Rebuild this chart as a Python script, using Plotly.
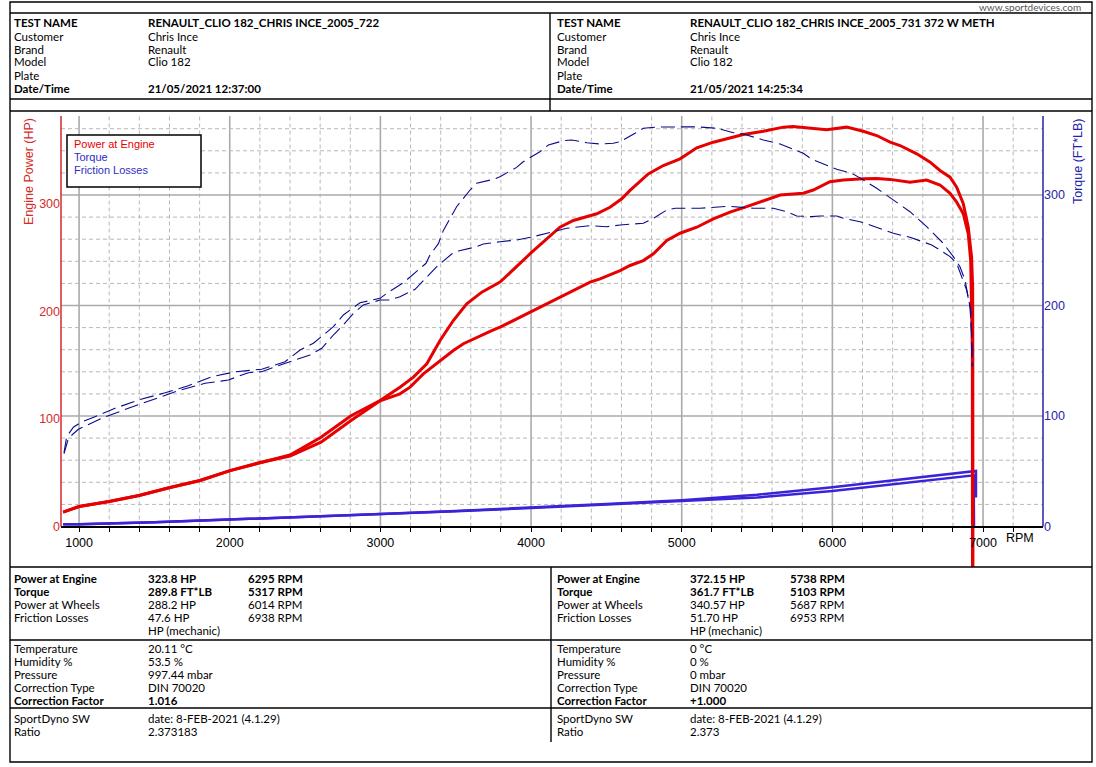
import plotly.graph_objects as go

W, H = 1096, 767
FONT = "Lato"
AX_FONT = "Liberation Sans"

# run 722 (a) and run 731 372 w meth (b)
rpm_pwr_a = [894, 1000, 1199, 1398, 1604, 1803, 2002, 2201, 2400, 2606, 2805, 2998, 3130, 3197, 3285,
             3396, 3484, 3551, 3662, 3739, 3794, 4015, 4148, 4392, 4458, 4591, 4657, 4745, 4812, 4901,
             4989, 5100, 5210, 5321, 5431, 5542, 5653, 5807, 5873, 5984, 6073, 6205, 6295, 6383, 6515,
             6626, 6714, 6781, 6825, 6869, 6902, 6918, 6924, 6929, 6930]
hp_a = [13.3, 18.6, 23.3, 28.8, 36.3, 42.8, 52, 59.5, 65.5, 78.4, 98.6, 117, 123.4, 129.6, 142,
        154.4, 163.7, 170, 177.7, 182.3, 185.4, 201, 210.2, 227.3, 230.4, 238.1, 242.8, 247.4, 253.7, 266,
        272.8, 278.4, 286.2, 292.4, 297.5, 302.6, 308.4, 310, 313, 320.7, 322.3, 323.5, 323.8, 322.9, 320.3,
        322.3, 317.7, 309.9, 301.7, 290.9, 272.3, 247.4, 210.2, 163.7, -60]

rpm_pwr_b = [894, 1000, 1199, 1398, 1604, 1803, 2002, 2201, 2400, 2606, 2805, 2998, 3130, 3219, 3308,
             3396, 3484, 3573, 3673, 3794, 4005, 4192, 4281, 4436, 4524, 4602, 4657, 4778, 4878, 4989,
             5100, 5210, 5321, 5409, 5542, 5675, 5738, 5830, 5962, 6095, 6205, 6294, 6383, 6449, 6560,
             6649, 6714, 6781, 6825, 6869, 6902, 6924, 6931, 6932, 6933]
hp_b = [13.3, 18.6, 23.3, 28.8, 36.3, 42.8, 52, 59.5, 66.5, 83, 103, 117.2, 129.6, 138.9, 151.3,
        173, 191.6, 207.2, 218, 227.3, 255.2, 278.4, 284.7, 290.9, 297, 304.8, 312.6, 328, 335.8, 342,
        352.3, 357.5, 361.6, 364.7, 367.7, 371.5, 372.15, 370.9, 369, 371.5, 367.7, 363.7, 357.5, 354.4, 346.7,
        338.9, 331.2, 325, 315.6, 300.2, 278.4, 250.5, 222.6, 163.7, -60]

rpm_tq_a = [900, 930, 995, 1150, 1327, 1482, 1659, 1836, 1991, 2124, 2212, 2301, 2478, 2533, 2611,
            2688, 2754, 2821, 2887, 2998, 3064, 3130, 3230, 3318, 3374, 3473, 3524, 3639, 3683, 3794,
            3904, 4015, 4104, 4237, 4392, 4502, 4591, 4657, 4745, 4812, 4901, 4956, 5122, 5317, 5475,
            5608, 5697, 5763, 5863, 5918, 6029, 6073, 6183, 6250, 6349, 6405, 6515, 6659, 6714, 6781,
            6825, 6858, 6891, 6913, 6924, 6928]
tq_a = [66, 80, 88, 97.9, 107, 114.5, 122.9, 129.6, 132.6, 139.2, 140.1, 144.6, 152.2, 155.2, 161.3,
        173.3, 182.4, 192.9, 200.5, 205, 205, 208, 214.7, 227.6, 235.1, 246.6, 249.6, 253.2, 255.7, 257.7,
        259.3, 262.3, 265.3, 269.9, 272.2, 271.3, 272.9, 273.8, 274.4, 278.9, 286.4, 288, 288, 289.8, 288,
        288, 284.9, 281, 280.4, 281, 281, 278.9, 275.8, 272.9, 267.7, 265.3, 261.7, 254.8, 250.2, 244.2,
        238.2, 226.1, 214, 198.9, 174.8, 145]

rpm_tq_b = [900, 918, 962, 1018, 1106, 1239, 1394, 1571, 1725, 1881, 2035, 2212, 2367, 2467, 2555,
            2688, 2754, 2865, 2998, 3042, 3153, 3303, 3329, 3385, 3418, 3473, 3506, 3595, 3639, 3750,
            3794, 3904, 3948, 4059, 4115, 4214, 4270, 4369, 4458, 4546, 4591, 4690, 4745, 4834, 4950,
            5103, 5232, 5343, 5409, 5542, 5653, 5719, 5807, 5863, 5962, 6029, 6128, 6183, 6294, 6405,
            6515, 6626, 6736, 6803, 6847, 6880, 6902, 6918, 6924, 6929]
tq_b = [67, 81.3, 89.8, 94.8, 99.4, 107, 114.5, 121, 127.4, 135.6, 140, 142.3, 149.1, 159.7, 165.8,
        180.8, 191.4, 202.5, 206.5, 211, 220.6, 238.2, 245.7, 256, 268, 282, 289.4, 304.5, 310.6, 314.2,
        316.6, 325, 330.1, 339.2, 345.2, 349.1, 349.8, 347.3, 346.2, 346.8, 348.2, 355.8, 360.4, 361.5, 361.6,
        361.7, 360.4, 356.4, 355.2, 349.8, 346.2, 342.3, 337.7, 332.3, 327.1, 323.3, 319.6, 315.5, 306.1, 295.5,
        284.9, 271.3, 256.3, 244.2, 235.1, 223.1, 208, 195.9, 174.8, 145]

rpm_fr_a = [894, 1000, 1500, 2000, 2500, 3000, 3500, 4000, 4500, 5000, 5500, 6000, 6500, 6938, 6940]
fr_a = [2.0, 2.2, 3.9, 6.3, 8.8, 11.4, 14.2, 17.2, 20.5, 23.5, 27.0, 33.0, 40.5, 47.6, 0]
rpm_fr_b = [894, 1000, 1500, 2000, 2500, 3000, 3500, 4000, 4500, 5000, 5500, 6000, 6500, 6953, 6953]
fr_b = [2.0, 2.2, 3.9, 6.3, 8.8, 11.6, 14.5, 17.6, 21.0, 24.5, 29.5, 36.5, 44.5, 51.7, 27]

# header / footer texts
hdr_labels = ["TEST NAME", "Customer", "Brand", "Model", "Plate", "Date/Time"]
hdr_a = ["RENAULT_CLIO 182_CHRIS INCE_2005_722", "Chris Ince", "Renault", "Clio 182", "", "21/05/2021 12:37:00"]
hdr_b = ["RENAULT_CLIO 182_CHRIS INCE_2005_731 372 W METH", "Chris Ince", "Renault", "Clio 182", "", "21/05/2021 14:25:34"]

perf_labels = ["Power at Engine", "Torque", "Power at Wheels", "Friction Losses", ""]
perf_a = ["323.8 HP", "289.8 FT*LB", "288.2 HP", "47.6 HP", "HP (mechanic)"]
perf_a_rpm = ["6295 RPM", "5317 RPM", "6014 RPM", "6938 RPM", ""]
perf_b = ["372.15 HP", "361.7 FT*LB", "340.57 HP", "51.70 HP", "HP (mechanic)"]
perf_b_rpm = ["5738 RPM", "5103 RPM", "5687 RPM", "6953 RPM", ""]

env_labels = ["Temperature", "Humidity %", "Pressure", "Correction Type", "Correction Factor"]
env_a = ["20.11 °C", "53.5 %", "997.44 mbar", "DIN 70020", "1.016"]
env_b = ["0 °C", "0 %", "0 mbar", "DIN 70020", "+1.000"]

sw_labels = ["SportDyno SW", "Ratio"]
sw_a = ["date: 8-FEB-2021 (4.1.29)", "2.373183"]
sw_b = ["date: 8-FEB-2021 (4.1.29)", "2.373"]

legend_names = ["Power at Engine", "Torque", "Friction Losses"]

RED = "#e60000"
RED_AX = "#d42a2a"
NAVY = "#0a0a8c"
BLUE_AX = "#2424a8"
VIOLET = "#3b24d8"


def px(x):
    return x / W


def py(y):
    return 1 - y / H


# plot area in pixels
PL, PR, PT, PB, P0 = 61, 1043, 116, 567, 526.5
X0, X1 = 880, 7398
HP_SCALE = 1.075   # px per HP
TQ_SCALE = 1.105   # px per ft*lb
hp_rng = [-(PB - P0) / HP_SCALE, (P0 - PT) / HP_SCALE]
tq_rng = [-(PB - P0) / TQ_SCALE, (P0 - PT) / TQ_SCALE]

fig = go.Figure()

fig.add_trace(go.Scatter(x=rpm_fr_a, y=fr_a, mode="lines", line=dict(color=VIOLET, width=2.5),
                         hoverinfo="skip"))
fig.add_trace(go.Scatter(x=rpm_fr_b, y=fr_b, mode="lines", line=dict(color=VIOLET, width=2.5),
                         hoverinfo="skip"))
fig.add_trace(go.Scatter(x=rpm_pwr_a, y=hp_a, mode="lines", line=dict(color=RED, width=3),
                         hoverinfo="skip"))
fig.add_trace(go.Scatter(x=rpm_pwr_b, y=hp_b, mode="lines", line=dict(color=RED, width=3),
                         hoverinfo="skip"))
fig.add_trace(go.Scatter(x=rpm_tq_a, y=tq_a, yaxis="y2", mode="lines",
                         line=dict(color=NAVY, width=1.1, dash="14px,6px"), hoverinfo="skip"))
fig.add_trace(go.Scatter(x=rpm_tq_b, y=tq_b, yaxis="y2", mode="lines",
                         line=dict(color=NAVY, width=1.1, dash="14px,6px"), hoverinfo="skip"))

shapes = []
# grid (follows the torque scale)
for r in range(1000, 7201, 200):
    major = r % 1000 == 0
    shapes.append(dict(type="line", xref="x", yref="y2", x0=r, x1=r, y0=0, y1=tq_rng[1],
                       layer="below",
                       line=dict(color="#aaaaaa" if major else "#b8b8b8", width=1.6 if major else 1,
                                 dash="solid" if major else "4px,3px")))
for t in range(20, 361, 20):
    major = t % 100 == 0
    shapes.append(dict(type="line", xref="x", yref="y2", x0=X0, x1=X1, y0=t, y1=t,
                       layer="below",
                       line=dict(color="#aaaaaa" if major else "#b8b8b8", width=1.6 if major else 1,
                                 dash="solid" if major else "4px,3px")))
# axis lines
shapes.append(dict(type="line", xref="paper", yref="paper", x0=px(PL), x1=px(PL), y0=py(P0), y1=py(PT),
                   line=dict(color=RED_AX, width=1.5)))
shapes.append(dict(type="line", xref="paper", yref="paper", x0=px(PR), x1=px(PR), y0=py(P0), y1=py(PT),
                   line=dict(color=BLUE_AX, width=1.5)))


# frame
def hline(y, x0=10, x1=1092, w=1.4):
    shapes.append(dict(type="line", xref="paper", yref="paper", x0=px(x0), x1=px(x1), y0=py(y), y1=py(y),
                       line=dict(color="black", width=w)))


def vline(x, y0, y1, w=1.4):
    shapes.append(dict(type="line", xref="paper", yref="paper", x0=px(x), x1=px(x), y0=py(y0), y1=py(y1),
                       line=dict(color="black", width=w)))


shapes.append(dict(type="rect", xref="paper", yref="paper", x0=px(10), x1=px(1092), y0=py(2), y1=py(762),
                   line=dict(color="black", width=1.4)))
for y in (13, 99, 111, 567, 640, 708):
    hline(y)
vline(550, 13, 111)
vline(551, 567, 742)

# legend box
shapes.append(dict(type="rect", xref="paper", yref="paper", x0=px(67), x1=px(201), y0=py(135), y1=py(187),
                   fillcolor="white", line=dict(color="black", width=1.5)))

fig.update_layout(shapes=shapes)


def txt(x, y, s, size=11.5, color="black", bold=False, anchor="left", family=FONT, angle=0):
    if not s:
        return
    fig.add_annotation(x=px(x), y=py(y), xref="paper", yref="paper", showarrow=False,
                       text="<b>%s</b>" % s if bold else s, xanchor=anchor, yanchor="middle",
                       textangle=angle, font=dict(family=family, size=size, color=color))


txt(1083, 7.5, "www.sportdevices.com", size=10, color="#555555", anchor="right")

hdr_y = [23, 36.5, 49.5, 62, 75, 88]
for i, y in enumerate(hdr_y):
    b = i in (0, 5)
    txt(12, y, hdr_labels[i], bold=b)
    txt(146, y, hdr_a[i], bold=b)
    txt(555, y, hdr_labels[i], bold=b)
    txt(688, y, hdr_b[i], bold=b)

perf_y = [578, 591, 604, 617, 630]
for i, y in enumerate(perf_y):
    b = i in (0, 1)
    txt(12, y, perf_labels[i], bold=b)
    txt(146, y, perf_a[i], bold=b)
    txt(246, y, perf_a_rpm[i], bold=b)
    txt(555, y, perf_labels[i], bold=b)
    txt(688, y, perf_b[i], bold=b)
    txt(788, y, perf_b_rpm[i], bold=b)

env_y = [648, 661, 674, 687, 700]
for i, y in enumerate(env_y):
    b = i == 4
    txt(12, y, env_labels[i], bold=b)
    txt(146, y, env_a[i], bold=b)
    txt(555, y, env_labels[i], bold=b)
    txt(688, y, env_b[i], bold=b)

sw_y = [718, 731]
for i, y in enumerate(sw_y):
    txt(12, y, sw_labels[i])
    txt(146, y, sw_a[i])
    txt(555, y, sw_labels[i])
    txt(688, y, sw_b[i])

# legend entries
for name, col, y in zip(legend_names, [RED, "#2a2ac8", "#3030c0"], [144, 157, 170]):
    txt(72, y, name, size=11, color=col, family=AX_FONT)

# axis titles and units
txt(29, 172, "Engine Power (HP)", size=12.5, color=RED_AX, anchor="center", family=AX_FONT, angle=-90)
txt(1078, 162, "Torque (FT*LB)", size=12.5, color=BLUE_AX, anchor="center", family=AX_FONT, angle=-90)
txt(1020, 538, "RPM", size=12.5, anchor="center", family=AX_FONT)

fig.update_layout(
    width=W, height=H, autosize=False,
    margin=dict(l=0, r=0, t=0, b=0),
    paper_bgcolor="white", plot_bgcolor="white",
    showlegend=False,
    xaxis=dict(domain=[px(PL), px(PR)], range=[X0, X1], anchor="free", position=py(P0),
               showgrid=False, zeroline=False, showline=True, linecolor="black", linewidth=1.5,
               ticks="outside", ticklen=5, tickcolor="black", tick0=0, dtick=1000,
               minor=dict(tick0=0, dtick=200, ticks="outside", ticklen=5, tickcolor="black", showgrid=False),
               tickfont=dict(family=AX_FONT, size=12.5, color="black"), automargin=False),
    yaxis=dict(domain=[py(PB), py(PT)], range=hp_rng, anchor="x",
               showgrid=False, zeroline=False, showline=False, ticks="",
               tickmode="array", tickvals=[0, 100, 200, 300],
               tickfont=dict(family=AX_FONT, size=12.5, color=RED_AX), automargin=False),
    yaxis2=dict(range=tq_rng, overlaying="y", side="right", anchor="x",
                showgrid=False, zeroline=False, showline=False, ticks="",
                tickmode="array", tickvals=[0, 100, 200, 300],
                tickfont=dict(family=AX_FONT, size=12.5, color=BLUE_AX), automargin=False),
)

# page margin off so the figure sits at the window's top-left corner
fig.write_html("out.html", config={"displayModeBar": False},
               post_script="document.body.style.margin = '0px';")
